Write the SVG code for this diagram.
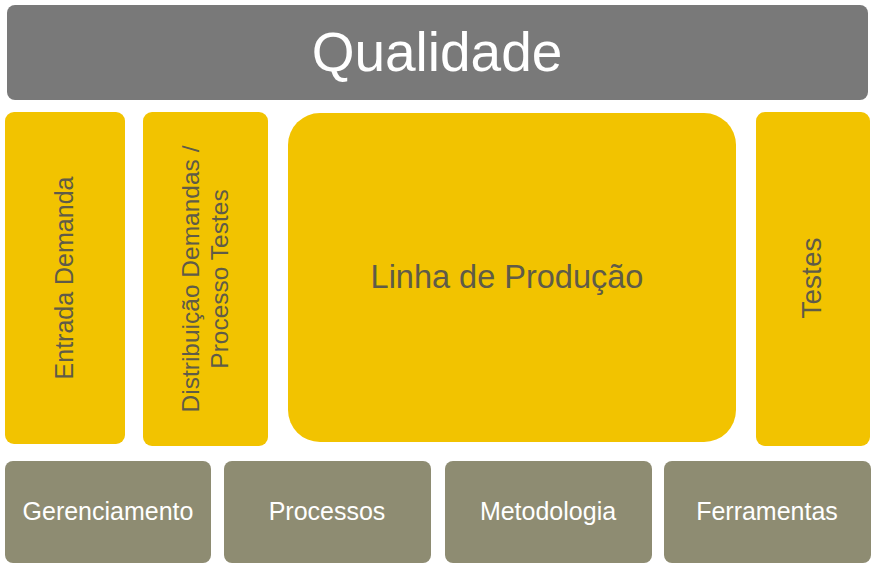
<svg xmlns="http://www.w3.org/2000/svg" width="875" height="569" viewBox="0 0 875 569">
<style>
.top{fill:#797979}
.yel{fill:#F2C300}
.base{fill:#8E8C72}
text{font-family:"Liberation Sans",Arial,sans-serif}
.w{fill:#FFFFFF}
.d{fill:#5F5B48}
</style>
<rect width="875" height="569" fill="#FFFFFF"/>
<g id="qualidade">
<rect class="top" x="7" y="5" width="861" height="95" rx="8"/>
<text class="w" x="437" y="71" font-size="55" text-anchor="middle">Qualidade</text>
</g>
<g id="entrada">
<rect class="yel" x="5" y="112" width="120" height="332" rx="9"/>
<text class="d" transform="translate(73,278) rotate(-90)" font-size="25" text-anchor="middle">Entrada Demanda</text>
</g>
<g id="distribuicao">
<rect class="yel" x="143" y="112" width="125" height="334" rx="9"/>
<text class="d" transform="translate(199,279) rotate(-90)" font-size="24.5" text-anchor="middle">Distribuição Demandas /</text>
<text class="d" transform="translate(228,279) rotate(-90)" font-size="24.5" text-anchor="middle">Processo Testes</text>
</g>
<g id="linha">
<rect class="yel" x="288" y="113" width="448" height="329" rx="32"/>
<text class="d" x="507" y="288" font-size="32.5" text-anchor="middle">Linha de Produção</text>
</g>
<g id="testes">
<rect class="yel" x="756" y="112" width="114" height="334" rx="9"/>
<text class="d" transform="translate(821,278) rotate(-90)" font-size="28" text-anchor="middle">Testes</text>
</g>
<g id="gerenciamento">
<rect class="base" x="5" y="461" width="206" height="102" rx="8"/>
<text class="w" x="108" y="520" font-size="25" text-anchor="middle">Gerenciamento</text>
</g>
<g id="processos">
<rect class="base" x="224" y="461" width="207" height="102" rx="8"/>
<text class="w" x="327" y="520" font-size="25" text-anchor="middle">Processos</text>
</g>
<g id="metodologia">
<rect class="base" x="445" y="461" width="207" height="102" rx="8"/>
<text class="w" x="548" y="520" font-size="25" text-anchor="middle">Metodologia</text>
</g>
<g id="ferramentas">
<rect class="base" x="664" y="461" width="207" height="102" rx="8"/>
<text class="w" x="767" y="520" font-size="25" text-anchor="middle">Ferramentas</text>
</g>
<g id="connectors"/>
</svg>
